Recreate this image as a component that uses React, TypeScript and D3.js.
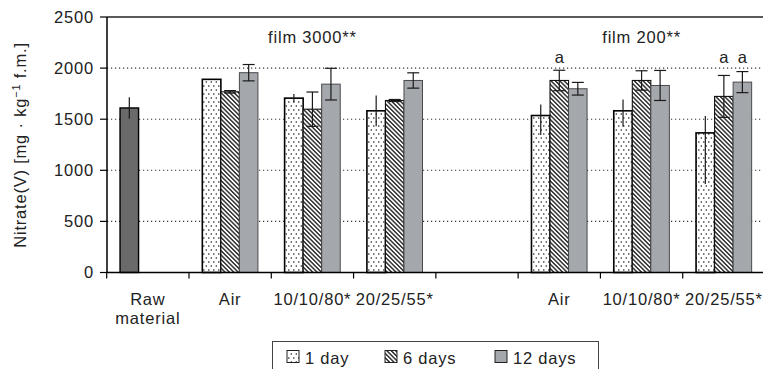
import { useEffect, useRef } from "react";
import * as d3 from "d3";

// categories along the x axis (one empty slot between the two film groups)
const categoryKeys = ["raw", "3000-air", "3000-10", "3000-20", "gap", "200-air", "200-10", "200-20"];
const categoryLabels = [["Raw", "material"], ["Air"], ["10/10/80*"], ["20/25/55*"], [], ["Air"], ["10/10/80*"], ["20/25/55*"]];
const treatments = ["3000-air", "3000-10", "3000-20", "200-air", "200-10", "200-20"];
const seriesNames = ["1 day", "6 days", "12 days"];

// values, mg/kg f.m.
const rawValue = 1610;
const rawErr = 105;
const day1 = [1890, 1706, 1582, 1536, 1582, 1366];
const day1ErrUp = [0, 40, 150, 108, 111, 165];
const day1ErrDown = [0, 40, 150, 190, 157, 500];
const day6 = [1768, 1598, 1683, 1879, 1879, 1723];
const day6Err = [12, 168, 10, 100, 95, 205];
const day12 = [1955, 1843, 1879, 1798, 1830, 1863];
const day12Err = [80, 155, 75, 62, 147, 103];

// significance letters: [series, treatment]
const letters: [string, string][] = [["6 days", "200-air"], ["6 days", "200-20"], ["12 days", "200-20"]];
const groupTitles: [string, string][] = [["film 3000**", "3000-10"], ["film 200**", "200-10"]];
const yTicks = [0, 500, 1000, 1500, 2000, 2500];

const FONT = "'Liberation Sans', Arial, sans-serif";
const FS = 16.5;
const LS = 0.8; // the original lettering is a bit wider than Arial

export default function App() {
  const svgRef = useRef<SVGSVGElement>(null);

  useEffect(() => {
    if (!svgRef.current) return;
    const svg = d3.select(svgRef.current);
    svg.selectAll("*").remove();

    const yScale = d3.scaleLinear().domain([0, 2500]).range([272.5, 17]);
    const xScale = d3.scaleBand().domain(categoryKeys).range([106.7, 765]).padding(0);
    const xInner = d3.scaleBand().domain(seriesNames).range([0, xScale.bandwidth()])
      .paddingInner(0).paddingOuter(0.72);

    // patterns
    const defs = svg.append("defs");
    const dots = defs.append("pattern").attr("id", "dots")
      .attr("patternUnits", "userSpaceOnUse").attr("width", 5).attr("height", 8);
    dots.append("rect").attr("width", 5).attr("height", 8).attr("fill", "#fff");
    dots.append("circle").attr("cx", 1.3).attr("cy", 2).attr("r", 0.8).attr("fill", "#1a1a1a");
    dots.append("circle").attr("cx", 3.8).attr("cy", 6).attr("r", 0.8).attr("fill", "#1a1a1a");

    const hatch = defs.append("pattern").attr("id", "hatch")
      .attr("patternUnits", "userSpaceOnUse").attr("width", 3.1).attr("height", 6)
      .attr("patternTransform", "rotate(-45)");
    hatch.append("rect").attr("width", 3.1).attr("height", 6).attr("fill", "#fff");
    hatch.append("rect").attr("width", 1.5).attr("height", 6).attr("fill", "#333");

    const fills: Record<string, string> = { "1 day": "url(#dots)", "6 days": "url(#hatch)", "12 days": "#a4a8ad" };
    const strokes: Record<string, string> = { "1 day": "#000", "6 days": "#111", "12 days": "#4a4a4a" };
    const strokeW: Record<string, number> = { "1 day": 1.6, "6 days": 1.1, "12 days": 1 };

    // gridlines
    svg.append("g").selectAll("line")
      .data(yTicks.filter(t => t > 0 && t < 2500))
      .join("line")
      .attr("x1", 107).attr("x2", 765)
      .attr("y1", d => yScale(d)).attr("y2", d => yScale(d))
      .attr("stroke", "#333").attr("stroke-width", 1.1)
      .attr("stroke-dasharray", "1.2,2.8");

    // top border
    svg.append("line").attr("x1", 107).attr("x2", 765)
      .attr("y1", yScale(2500)).attr("y2", yScale(2500))
      .attr("stroke", "#222").attr("stroke-width", 1.4);

    // bar records
    type Bar = { series: string; cat: string; value: number; up: number; down: number };
    const bars: Bar[] = [];
    treatments.forEach((t, i) => {
      bars.push({ series: "1 day", cat: t, value: day1[i], up: day1ErrUp[i], down: day1ErrDown[i] });
      bars.push({ series: "6 days", cat: t, value: day6[i], up: day6Err[i], down: day6Err[i] });
      bars.push({ series: "12 days", cat: t, value: day12[i], up: day12Err[i], down: day12Err[i] });
    });

    const barX = (d: Bar) => (xScale(d.cat) ?? 0) + (xInner(d.series) ?? 0);
    const bw = xInner.bandwidth();

    // raw material bar
    const rawX = (xScale("raw") ?? 0) + (xInner("1 day") ?? 0);
    svg.append("rect")
      .attr("x", rawX).attr("y", yScale(rawValue))
      .attr("width", bw).attr("height", yScale(0) - yScale(rawValue))
      .attr("fill", "#6a6a6a").attr("stroke", "#000").attr("stroke-width", 1.4);

    svg.append("g").selectAll("rect")
      .data(bars)
      .join("rect")
      .attr("x", d => barX(d))
      .attr("y", d => yScale(d.value))
      .attr("width", bw)
      .attr("height", d => yScale(0) - yScale(d.value))
      .attr("fill", d => fills[d.series])
      .attr("stroke", d => strokes[d.series])
      .attr("stroke-width", d => strokeW[d.series]);

    // error bars
    const errG = svg.append("g").attr("stroke", "#1a1a1a").attr("stroke-width", 1.2);
    errG.append("line")
      .attr("x1", rawX + bw / 2).attr("x2", rawX + bw / 2)
      .attr("y1", yScale(rawValue + rawErr)).attr("y2", yScale(rawValue - rawErr));
    bars.filter(d => d.up > 0 || d.down > 0).forEach(d => {
      const cx = barX(d) + bw / 2;
      errG.append("line").attr("x1", cx).attr("x2", cx)
        .attr("y1", yScale(d.value + d.up)).attr("y2", yScale(d.value - d.down));
      if (d.series !== "1 day") {
        [d.value + d.up, d.value - d.down].forEach(v => {
          errG.append("line").attr("x1", cx - 6).attr("x2", cx + 6)
            .attr("y1", yScale(v)).attr("y2", yScale(v));
        });
      }
    });

    // axes
    svg.append("line").attr("x1", 107).attr("x2", 107)
      .attr("y1", yScale(2500)).attr("y2", yScale(0))
      .attr("stroke", "#000").attr("stroke-width", 1.5);
    svg.append("line").attr("x1", 107).attr("x2", 765)
      .attr("y1", yScale(0)).attr("y2", yScale(0))
      .attr("stroke", "#000").attr("stroke-width", 1.5);

    svg.append("g").selectAll("line")
      .data(yTicks)
      .join("line")
      .attr("x1", 100).attr("x2", 107)
      .attr("y1", d => yScale(d)).attr("y2", d => yScale(d))
      .attr("stroke", "#000").attr("stroke-width", 1.2);

    svg.append("g").selectAll("text")
      .data(yTicks)
      .join("text")
      .attr("x", 94).attr("y", d => yScale(d))
      .attr("dy", "0.36em")
      .attr("text-anchor", "end")
      .attr("font-family", FONT).attr("font-size", FS).attr("letter-spacing", LS).attr("fill", "#222")
      .text(d => d);

    svg.append("g").selectAll("line")
      .data(categoryKeys.map(k => xScale(k) ?? 0))
      .join("line")
      .attr("x1", d => d).attr("x2", d => d)
      .attr("y1", yScale(0)).attr("y2", yScale(0) + 6)
      .attr("stroke", "#000").attr("stroke-width", 1.2);

    // category labels
    const catG = svg.append("g").attr("font-family", FONT).attr("font-size", FS)
      .attr("letter-spacing", LS).attr("fill", "#222").attr("text-anchor", "middle");
    categoryKeys.forEach((k, i) => {
      const cx = (xScale(k) ?? 0) + xScale.bandwidth() / 2;
      categoryLabels[i].forEach((line, j) => {
        catG.append("text").attr("x", cx).attr("y", 305 + j * 18.5).text(line);
      });
    });

    // y label
    const yl = svg.append("text")
      .attr("transform", "translate(26,145) rotate(-90)")
      .attr("text-anchor", "middle")
      .attr("font-family", FONT).attr("font-size", FS).attr("letter-spacing", LS).attr("fill", "#222");
    yl.append("tspan").text("Nitrate(V) [mg · kg");
    yl.append("tspan").attr("font-size", 11).attr("dy", -6).text("−1");
    yl.append("tspan").attr("dy", 6).text(" f.m.]");

    // group titles
    groupTitles.forEach(([title, key]) => {
      svg.append("text")
        .attr("x", (xScale(key) ?? 0) + xScale.bandwidth() / 2).attr("y", 43)
        .attr("text-anchor", "middle")
        .attr("font-family", FONT).attr("font-size", FS).attr("letter-spacing", LS).attr("fill", "#222")
        .text(title);
    });

    // significance letters
    letters.forEach(([s, t]) => {
      svg.append("text")
        .attr("x", (xScale(t) ?? 0) + (xInner(s) ?? 0) + bw / 2).attr("y", 63)
        .attr("text-anchor", "middle")
        .attr("font-family", FONT).attr("font-size", FS).attr("fill", "#222")
        .text("a");
    });

    // legend
    const lg = svg.append("g");
    lg.append("rect").attr("x", 272.5).attr("y", 341.5).attr("width", 326).attr("height", 40)
      .attr("fill", "#fff").attr("stroke", "#444").attr("stroke-width", 1);
    const legendX = [287, 385, 495];
    seriesNames.forEach((s, i) => {
      lg.append("rect").attr("x", legendX[i]).attr("y", 350.5).attr("width", 12).attr("height", 12)
        .attr("fill", fills[s]).attr("stroke", "#222").attr("stroke-width", 1);
      lg.append("text").attr("x", legendX[i] + 18).attr("y", 364)
        .attr("font-family", FONT).attr("font-size", FS).attr("letter-spacing", LS).attr("fill", "#222")
        .text(s);
    });
  }, []);

  return (
    <svg
      ref={svgRef}
      width={763}
      height={369}
      style={{ position: "absolute", left: 0, top: 0, background: "#fff" }}
    />
  );
}
